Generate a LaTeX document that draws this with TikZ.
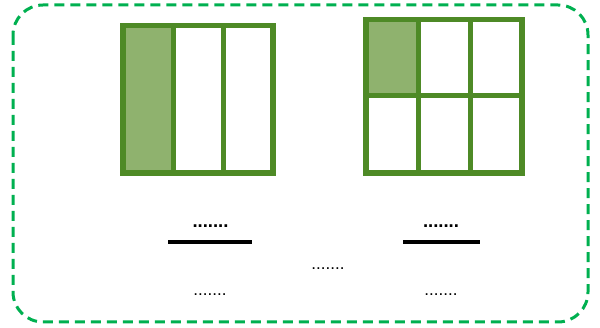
\documentclass[tikz,border=0pt]{standalone}
\usepackage{fontspec}
\setmainfont{Liberation Sans}
\definecolor{gborder}{RGB}{78,138,38}
\definecolor{gfill}{RGB}{143,178,110}
\definecolor{dashg}{RGB}{0,176,80}
\tikzset{
  grid/.style={draw=gborder, line width=5.5pt},
  shade/.style={fill=gfill},
  dots/.style={font=\fontsize{18.5}{18.5}\selectfont\bfseries, inner sep=0pt, anchor=base},
  ldots/.style={font=\fontsize{17}{17}\selectfont, inner sep=0pt, anchor=base},
  bar/.style={line width=3.5pt, draw=black},
}
\begin{document}
\begin{tikzpicture}[x=1pt,y=-1pt]
\useasboundingbox (0,0) rectangle (600,328);
\draw[dashg, line width=3pt, dash pattern=on 10pt off 6pt, rounded corners=30pt] (13,5) rectangle (588,322);
% left fraction model
\fill[shade] (123,25.5) rectangle (173,173);
\draw[grid] (123,25.5) rectangle (273,173);
\draw[grid, line width=5pt] (173,25.5) -- (173,173);
\draw[grid, line width=5pt] (223,25.5) -- (223,173);
% right fraction model
\fill[shade] (366,19.5) rectangle (418,95.5);
\draw[grid] (366,19.5) rectangle (522,173);
\draw[grid, line width=5pt] (418,19.5) -- (418,173);
\draw[grid, line width=5pt] (470,19.5) -- (470,173);
\draw[grid, line width=5pt] (366,95.5) -- (522,95.5);
% fractions
\node[dots] (n1) at (210.5,227.5) {.......};
\coordinate (a1) at (168,242);
\coordinate (b1) at (252,242);
\draw[bar] (a1) -- (b1);
\node[ldots] (d1) at (210,295.5) {.......};
\node[ldots] (mid) at (328,269.5) {.......};
\node[dots] (n2) at (441,227.5) {.......};
\coordinate (a2) at (403,242);
\coordinate (b2) at (480,242);
\draw[bar] (a2) -- (b2);
\node[ldots] (d2) at (441,295.5) {.......};
\end{tikzpicture}
\end{document}
